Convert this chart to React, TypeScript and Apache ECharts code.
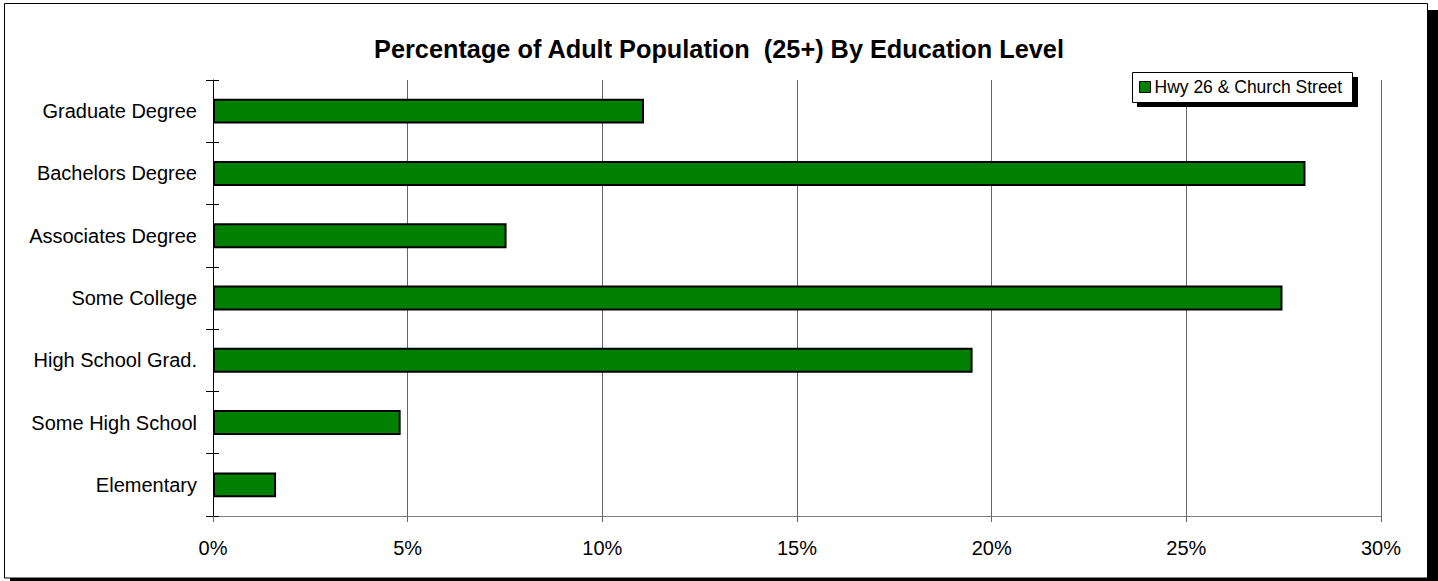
import React, { useEffect, useRef } from "react";
import * as echarts from "echarts";

const categories = [
  "Graduate Degree",
  "Bachelors Degree",
  "Associates Degree",
  "Some College",
  "High School Grad.",
  "Some High School",
  "Elementary",
];
const values = [11.07, 28.06, 7.54, 27.47, 19.51, 4.82, 1.62];
const seriesName = "Hwy 26 & Church Street";
const titleText = "Percentage of Adult Population  (25+) By Education Level";

const FONT = "Arial, 'Liberation Sans', Helvetica, sans-serif";

export default function App() {
  const ref = useRef<HTMLDivElement>(null);
  useEffect(() => {
    if (!ref.current) return;
    const chart = echarts.init(ref.current, null, { renderer: "svg" });
    chart.setOption({
      animation: false,
      backgroundColor: "#fff",
      textStyle: { fontFamily: FONT },
      title: {
        text: titleText,
        left: "center",
        top: 31,
        textStyle: { fontSize: 25.3, fontWeight: "bold", color: "#000", fontFamily: FONT },
      },
      graphic: [
        { type: "rect", z: -10, shape: { x: 10, y: 10, width: 1428, height: 580 }, style: { fill: "#000" } },
        { type: "rect", z: -9, shape: { x: 4.5, y: 3.5, width: 1423, height: 574.5 }, style: { fill: "#fff", stroke: "#000", lineWidth: 1 } },
        { type: "rect", z: 3, shape: { x: 1137, y: 77, width: 221, height: 30 }, style: { fill: "#000" } },
        { type: "rect", z: 3, shape: { x: 1132.5, y: 72.5, width: 220, height: 30 }, style: { fill: "#fff", stroke: "#000", lineWidth: 1 } },
      ],
      legend: {
        left: 1139,
        top: 77,
        padding: 0,
        itemWidth: 11,
        itemHeight: 11,
        itemGap: 4,
        z: 5,
        icon: "rect",
        data: [{ name: seriesName, itemStyle: { color: "#008000", borderColor: "#000", borderWidth: 1 } }],
        textStyle: { fontSize: 17.5, color: "#000", fontFamily: FONT, lineHeight: 20, padding: [0, 0, 0, -1] },
      },
      grid: { left: 213, right: 57, top: 80, bottom: 65, containLabel: false },
      xAxis: {
        type: "value",
        min: 0,
        max: 30,
        interval: 5,
        axisLine: { show: true, lineStyle: { color: "#808080", width: 1 } },
        axisTick: { show: true, length: 6, lineStyle: { color: "#666" } },
        axisLabel: { formatter: "{value}%", fontSize: 20, color: "#000", margin: 22, fontFamily: FONT },
        splitLine: { show: true, lineStyle: { color: "#666", width: 1 } },
      },
      yAxis: [
        {
          type: "category",
          data: categories,
          inverse: true,
          axisLine: { show: true, lineStyle: { color: "#000", width: 1 } },
          axisTick: { show: true, length: 7, lineStyle: { color: "#000" } },
          axisLabel: { fontSize: 20, color: "#000", margin: 16, fontFamily: FONT },
          splitLine: { show: false },
        },
        {
          type: "category",
          data: categories,
          inverse: true,
          position: "left",
          axisLine: { show: false },
          axisTick: { show: true, inside: true, length: 6, lineStyle: { color: "#000" } },
          axisLabel: { show: false },
          splitLine: { show: false },
        },
      ],
      series: [
        {
          name: seriesName,
          type: "bar",
          yAxisIndex: 0,
          data: values,
          barWidth: "40%",
          itemStyle: { color: "#008000", borderColor: "#000", borderWidth: 2 },
        },
      ],
    });
    return () => chart.dispose();
  }, []);
  return (
    <div
      ref={ref}
      style={{ position: "absolute", left: 0, top: 0, width: 1438, height: 581 }}
    />
  );
}
